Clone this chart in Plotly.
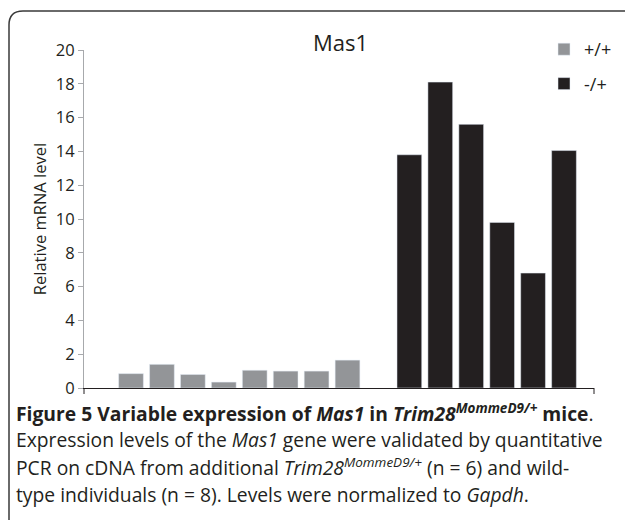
import plotly.graph_objects as go

categories = ["wt1", "wt2", "wt3", "wt4", "wt5", "wt6", "wt7", "wt8", "gap",
              "mut1", "mut2", "mut3", "mut4", "mut5", "mut6"]
wt_categories = categories[:8]
mut_categories = categories[9:]
wt_values = [0.85, 1.4, 0.8, 0.35, 1.05, 1.0, 1.0, 1.65]
mut_values = [13.8, 18.1, 15.6, 9.8, 6.8, 14.05]
y_ticks = [0, 2, 4, 6, 8, 10, 12, 14, 16, 18, 20]

GRAY = "#939598"
BLACK = "#231F20"
FONT = "Open Sans"

W, H = 625, 520
L, R, T, B = 84, 31, 50, 132
PW, PH = W - L - R, H - T - B


def px(x):
    return (x - L) / PW


def py(y):
    return (H - B - y) / PH


fig = go.Figure()
fig.add_trace(go.Bar(x=wt_categories, y=wt_values, name="+/+", marker_color=GRAY,
                     width=0.8, legendgroup="a"))
fig.add_trace(go.Bar(x=mut_categories, y=mut_values, name="-/+", marker_color=BLACK,
                     width=0.8, legendgroup="b"))

fig.update_layout(
    width=W, height=H,
    margin=dict(l=L, r=R, t=T, b=B, autoexpand=False),
    paper_bgcolor="white", plot_bgcolor="white",
    font=dict(family=FONT, color=BLACK, size=16),
    showlegend=True,
    legend=dict(x=px(544), y=py(31), xanchor="left", yanchor="top",
                font=dict(size=18, color=BLACK), tracegroupgap=8,
                traceorder="grouped", bgcolor="rgba(0,0,0,0)"),
    bargap=0.2,
)
fig.update_xaxes(type="category", categoryorder="array", categoryarray=categories,
                 range=[-1.52, 14.97], showticklabels=False, ticks="",
                 showline=True, linecolor=BLACK, linewidth=1.2, showgrid=False,
                 zeroline=False, fixedrange=True)
fig.update_yaxes(range=[0, 20], tickvals=y_ticks, ticks="outside", ticklen=5,
                 tickcolor="#a7a9ac", showline=True, linecolor="#a7a9ac", linewidth=1,
                 showgrid=False, zeroline=False,
                 title=dict(text="Relative mRNA level", font=dict(size=16.5), standoff=5),
                 tickfont=dict(size=16.5))

# axis end ticks on x
for xp in (0, 1):
    fig.add_shape(type="line", xref="paper", yref="paper", x0=xp, x1=xp,
                  y0=0, y1=-6 / PH, line=dict(color=BLACK, width=1))

# title
fig.add_annotation(text="Mas1", xref="paper", yref="paper", x=px(340), y=py(42),
                   showarrow=False, font=dict(size=22, color=BLACK),
                   xanchor="center", yanchor="middle")

# border
fig.add_shape(type="path", xref="paper", yref="paper",
              path=f"M {px(9)},{py(530)} L {px(9)},{py(25)} Q {px(9)},{py(11)} {px(23)},{py(11)} L {px(640)},{py(11)}",
              line=dict(color="#3a3a3a", width=1.5))

caption = [
    "<b>Figure 5 Variable expression of <i>Mas1</i> in <i>Trim28</i><sup><i>MommeD9/+</i></sup> mice</b>.",
    "Expression levels of the <i>Mas1</i> gene were validated by quantitative",
    "PCR on cDNA from additional <i>Trim28</i><sup><i>MommeD9/+</i></sup> (n = 6) and wild-",
    "type individuals (n = 8). Levels were normalized to <i>Gapdh</i>.",
]
ys = [413, 440, 467, 494]
for t, yy in zip(caption, ys):
    fig.add_annotation(text=t, xref="paper", yref="paper", x=px(14), y=py(yy),
                       showarrow=False, xanchor="left", yanchor="middle",
                       font=dict(size=19.3, color=BLACK, family=FONT))

fig.write_html("out.html")
